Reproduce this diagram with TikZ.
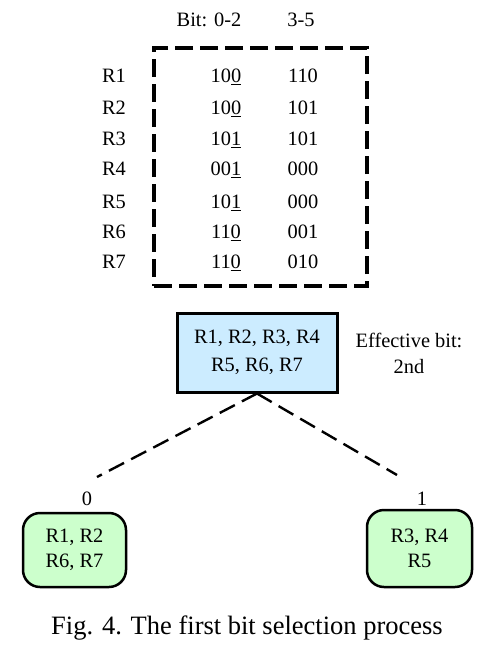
\documentclass[tikz,border=0pt]{standalone}
\usepackage{fontspec}
\setmainfont{Liberation Serif}
\newcommand\selbit[1]{\underline{#1}}
\begin{document}
\begin{tikzpicture}[x=1pt,y=-1pt,
  txt/.style={font=\fontsize{20.4}{28}\selectfont, inner sep=0pt, anchor=base},
  tablebox/.style={draw, line width=3.6pt, dash pattern=on 18pt off 7pt,
    minimum width=213pt, minimum height=238pt, inner sep=0pt},
  rootbox/.style={draw, line width=3pt, fill=rootblue, align=center,
    font=\fontsize{20.4}{28}\selectfont, minimum width=160pt, minimum height=79pt, inner sep=0pt},
  leafbox/.style={draw, line width=2.5pt, fill=leafgreen, rounded corners=17pt, align=center,
    font=\fontsize{20.4}{25}\selectfont, inner sep=0pt},
  branch/.style={line width=2.4pt, dash pattern=on 17pt off 8pt}]
\definecolor{rootblue}{RGB}{204,236,255}
\definecolor{leafgreen}{RGB}{204,255,204}
\fill[white] (0,0) rectangle (504,665);
\useasboundingbox (0,0) rectangle (504,665);

% column headers
\node[txt] (hA) at (209,26) {Bit: 0-2};
\node[txt] (hB) at (301,26) {3-5};

% frame around the bit table
\node[tablebox] (tbl) at (260.5,167) {};

% rows: label, bits 0-2 (selected bit underlined), bits 3-5
\node[txt] (r1) at (114,82.5)  {R1}; \node[txt] (a1) at (226,82.5)  {10\selbit{0}}; \node[txt] (b1) at (303,82.5)  {110};
\node[txt] (r2) at (114,114.5) {R2}; \node[txt] (a2) at (226,114.5) {10\selbit{0}}; \node[txt] (b2) at (303,114.5) {101};
\node[txt] (r3) at (114,145.5) {R3}; \node[txt] (a3) at (226,145.5) {10\selbit{1}}; \node[txt] (b3) at (303,145.5) {101};
\node[txt] (r4) at (114,175.5) {R4}; \node[txt] (a4) at (226,175.5) {00\selbit{1}}; \node[txt] (b4) at (303,175.5) {000};
\node[txt] (r5) at (114,208.5) {R5}; \node[txt] (a5) at (226,208.5) {10\selbit{1}}; \node[txt] (b5) at (303,208.5) {000};
\node[txt] (r6) at (114,238.5) {R6}; \node[txt] (a6) at (226,238.5) {11\selbit{0}}; \node[txt] (b6) at (303,238.5) {001};
\node[txt] (r7) at (114,268.5) {R7}; \node[txt] (a7) at (226,268.5) {11\selbit{0}}; \node[txt] (b7) at (303,268.5) {010};

% root of the split
\node[rootbox] (root) at (257,352.5) {R1, R2, R3, R4\\R5, R6, R7};
\node[txt] (eff1) at (409,347) {Effective bit:};
\node[txt] (eff2) at (409,373) {2nd};

% branch ends and their bit values
\coordinate (c0) at (97,477);
\coordinate (c1) at (397,475);
\draw[branch] (root.south) -- (c0);
\draw[branch] (root.south) -- (c1);
\node[txt] (v0) at (87,505) {0};
\node[txt] (v1) at (422,505) {1};

% leaves
\node[leafbox, minimum width=103pt, minimum height=74pt] (leaf0) at (74.5,550) {R1, R2\\R6, R7};
\node[leafbox, minimum width=105pt, minimum height=77pt] (leaf1) at (419.5,548.5) {R3, R4\\R5};

% caption
\node[txt, font=\fontsize{26.5}{30}\selectfont] (cap) at (247,634) {Fig. 4. The first bit selection process};
\end{tikzpicture}
\end{document}
